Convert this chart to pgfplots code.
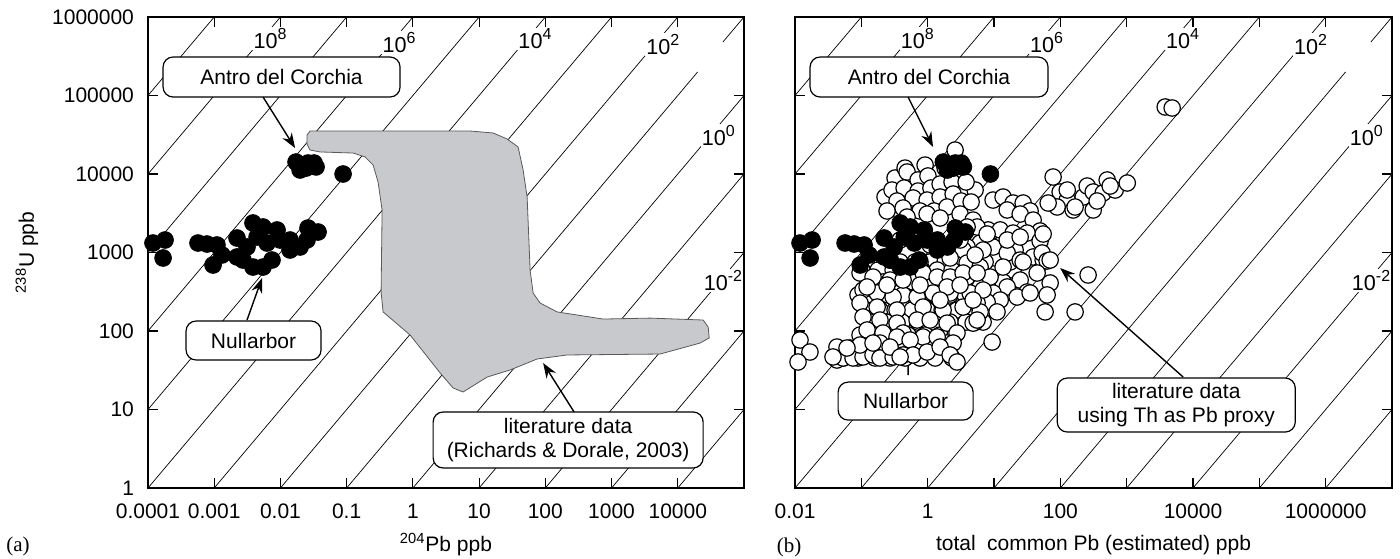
\documentclass[border=0pt]{standalone}
\usepackage{fontspec}
\setmainfont{Liberation Sans}
\newfontfamily\seriffont{Liberation Serif}
\usepackage{pgfplots}
\pgfplotsset{compat=1.18}
\usetikzlibrary{arrows.meta}

\newcommand\fs{\fontsize{10.5}{12}\selectfont}
\newcommand\pw[1]{10\raisebox{0.8ex}{\fontsize{8}{9}\selectfont #1}}

\tikzset{
  lab/.style={anchor=south west, fill=white, inner sep=0.6pt, font=\fontsize{10.8}{12}\selectfont},
  callout/.style={draw, fill=white, rounded corners=5pt, line width=0.6pt, font=\fs, align=center, inner sep=0pt},
  arr/.style={-{Stealth[length=7.5pt,width=5.5pt]}, line width=0.7pt},
}

\begin{document}
\begin{tikzpicture}
\useasboundingbox (0,0) rectangle (700pt,279pt);

% ---------------- (a) ----------------
\begin{axis}[name=pa, at={(74pt,35pt)}, anchor=south west,
  scale only axis, width=298pt, height=235.5pt,
  xmode=log, ymode=log, ymin=1, ymax=1e6, xmin=1e-4, xmax=1e5,
  xminorticks=false, yminorticks=false,
  axis line style={line width=0.9pt},
  tick style={black, line width=0.6pt},
  major tick length=5pt, tick align=inside,
  tick label style={font=\fs},
  yticklabel style={xshift=-3.5pt},
  xticklabel style={yshift=-4.5pt},
  label style={font=\fs},
  xtick={1e-4,1e-3,1e-2,1e-1,1,10,100,1000,10000,100000},
  xticklabels={0.0001,0.001,0.01,0.1,1,10,100,1000,10000,},
  ytick={1,10,100,1000,10000,100000,1000000},
  yticklabels={1,10,100,1000,10000,100000,1000000},
  xlabel={\textsuperscript{204}Pb ppb},
  ylabel={\textsuperscript{238}U ppb},
  xlabel style={at={(axis description cs:0.5,-0.121)}, anchor=center},
  ylabel style={at={(axis description cs:-0.203,0.5)}, anchor=center},
]
\addplot[black, line width=0.35pt, unbounded coords=jump, forget plot] table[row sep=\\] {
x y\\
1e-4 1e5\\ 1e-3 1e6\\ nan nan\\
1e-4 1e4\\ 1e-2 1e6\\ nan nan\\
1e-4 1e3\\ 0.1 1e6\\ nan nan\\
1e-4 100\\ 1 1e6\\ nan nan\\
1e-4 10\\ 10 1e6\\ nan nan\\
1e-4 1\\ 100 1e6\\ nan nan\\
1e-3 1\\ 1000 1e6\\ nan nan\\
1e-2 1\\ 1e4 1e6\\ nan nan\\
0.1 1\\ 19950 199500\\ nan nan\\
47900 479000\\ 1e5 1e6\\ nan nan\\
1 1\\ 1e5 1e5\\ nan nan\\
10 1\\ 1e5 1e4\\ nan nan\\
100 1\\ 1e5 1000\\ nan nan\\
1000 1\\ 1e5 100\\ nan nan\\
1e4 1\\ 1e5 10\\
};
% literature field (Richards & Dorale, 2003)
\addplot[fill={rgb,255:red,200;green,201;blue,204}, draw=black!65, line width=0.4pt] coordinates {
(0.0280,35300) (7.31,35300) (16.3,33300) (26.5,27900) (38.8,22100) (46.2,11250)
(53.1,5090) (58.9,598) (65.4,305) (83.4,227) (151,175) (747,142) (3830,146)
(24200,138) (28800,112) (29800,81.5) (21800,70.3) (5420,50.9) (213,49.5)
(75.2,44.0) (29.4,31.9) (13.2,25.9) (5.73,16.7) (4.05,18.8) (2.58,29.2)
(0.908,88.9) (0.355,175) (0.331,314) (0.343,3480) (0.298,7910) (0.251,13000)
(0.190,16500) (0.125,18500) (0.0396,19100) (0.0280,20200) (0.0252,24100)
(0.0252,31400)} -- cycle;
% Antro del Corchia and Nullarbor
\addplot[only marks, mark=*, mark size=4.2pt, mark options={fill=black, draw=black}] coordinates {
(0.0172,14200) (0.0212,12650) (0.0261,13800) (0.0322,13800) (0.0345,12300)
(0.0198,11250) (0.0244,11900) (0.0300,12650) (0.0883,10000)
(0.000119,1321) (0.000181,1443) (0.000169,851) (0.000569,1321) (0.000778,1283)
(0.00110,1246) (0.00131,930) (0.00096,693) (0.00221,1530) (0.00221,877)
(0.00313,1175) (0.00385,2376) (0.00546,2113) (0.00385,653) (0.00546,653)
(0.00746,802) (0.00628,1321) (0.00889,1936) (0.00986,1443) (0.01396,1443)
(0.01396,1076) (0.0198,1175) (0.0261,2051) (0.0370,1824) (0.0252,1443)
(0.00444,1575) (0.00272,802)};

\node[lab] at (axis cs:0.00372,371500) {\pw{8}};
\node[lab] at (axis cs:0.331,331000) {\pw{6}};
\node[lab] at (axis cs:37.2,371500) {\pw{4}};
\node[lab] at (axis cs:3160,316000) {\pw{2}};
\node[lab] at (axis cs:21900,21900) {\pw{0}};
\node[lab] at (axis cs:23400,314) {\pw{-2}};

\node[callout, minimum width=118.5pt, minimum height=20pt] at (axis cs:0.0104,172000) {Antro del Corchia};
\draw[arr] (axis cs:0.00546,95700) -- (axis cs:0.01664,21400);
\node[callout, minimum width=67.5pt, minimum height=19.5pt] at (axis cs:0.00393,75.7) {Nullarbor};
\draw[arr] (axis cs:0.00313,138) -- (axis cs:0.00527,473);
\node[callout, minimum width=135pt, minimum height=28pt] at (axis cs:221,4.09) {literature data\\(Richards \& Dorale, 2003)};
\draw[arr] (axis cs:272,9.29) -- (axis cs:92.7,39.1);
\end{axis}

% ---------------- (b) ----------------
\begin{axis}[name=pb, at={(397.5pt,35pt)}, anchor=south west,
  scale only axis, width=298.5pt, height=235.5pt,
  xmode=log, ymode=log, ymin=1, ymax=1e6, xmin=1e-2, xmax=1e7,
  xminorticks=false, yminorticks=false,
  axis line style={line width=0.9pt},
  tick style={black, line width=0.6pt},
  major tick length=5pt, tick align=inside,
  tick label style={font=\fs},
  xticklabel style={yshift=-4.5pt},
  label style={font=\fs},
  xtick={1e-2,1e-1,1,10,100,1000,1e4,1e5,1e6,1e7},
  xticklabels={0.01,,1,,100,,10000,,1000000,},
  ytick={1,10,100,1000,10000,100000,1000000},
  yticklabels={,,,,,,},
  xlabel={total\hspace{0.55em}common Pb (estimated) ppb},
  xlabel style={at={(axis description cs:0.5,-0.121)}, anchor=center},
]
\addplot[black, line width=0.35pt, unbounded coords=jump, forget plot] table[row sep=\\] {
x y\\
0.01 1e5\\ 0.1 1e6\\ nan nan\\
0.01 1e4\\ 1 1e6\\ nan nan\\
0.01 1000\\ 10 1e6\\ nan nan\\
0.01 100\\ 100 1e6\\ nan nan\\
0.01 10\\ 1000 1e6\\ nan nan\\
0.01 1\\ 1e4 1e6\\ nan nan\\
0.1 1\\ 1e5 1e6\\ nan nan\\
1 1\\ 1e6 1e6\\ nan nan\\
10 1\\ 1995000 199500\\ nan nan\\
4790000 479000\\ 1e7 1e6\\ nan nan\\
100 1\\ 1e7 1e5\\ nan nan\\
1000 1\\ 1e7 1e4\\ nan nan\\
1e4 1\\ 1e7 1000\\ nan nan\\
1e5 1\\ 1e7 100\\ nan nan\\
1e6 1\\ 1e7 10\\
};
% literature data using Th as Pb proxy
\addplot[only marks, mark=*, mark size=4.1pt, mark options={fill=white, draw=black, line width=0.6pt}] coordinates {
(0.1352,757) (0.2275,757) (0.384,757) (0.6457,757) (1.09,757) (1.829,757) (3.08,757) (5.19,757) (8.73,757) (14.7,757)
(0.1026,598) (0.1786,598) (0.301,598) (0.5058,598) (0.8241,598) (1.39,598) (2.33,598) (4.064,598) (6.85,598) (11.5,598) (19.4,598)
(0.1262,421) (0.2124,421) (0.3581,421) (0.603,421) (1.01,421) (1.71,421) (2.876,421) (4.84,421) (8.15,421) (13.7,421)
(0.0891,288) (0.1449,288) (0.2529,288) (0.426,288) (0.716,288) (1.294,288) (2.18,288) (3.664,288) (6.622,288) (11.1,288)
(0.1138,185) (0.1914,185) (0.3221,185) (0.5821,185) (0.98,185) (1.648,185) (2.77,185) (4.677,185) (7.87,185)
(0.1352,130) (0.2360,130) (0.4111,130) (0.716,130) (1.25,130) (2.18,130) (3.79,130) (6.85,130)
(0.0955,88.9) (0.1667,88.9) (0.290,88.9) (0.5058,88.9) (0.9141,88.9) (1.54,88.9) (2.59,88.9)
(0.0676,60.7) (0.1178,60.7) (0.2051,60.7) (0.3581,60.7) (0.6457,60.7) (1.164,60.7) (2.030,60.7)
(0.0530,45.3) (0.0891,45.3) (0.1611,45.3) (0.271,45.3) (0.4560,45.3) (0.767,45.3) (1.294,45.3) (2.33,45.3)
(0.2275,5090) (0.3221,8890) (0.9141,13000) (1.829,11900) (3.08,11250) (5.19,6250) (0.4560,11900)
(10.4,851) (17.5,757) (7.345,757) (12.4,1246) (20.8,1076)
(2.59,20200) (0.489,10600) (0.716,8390) (1.01,9440) (0.290,6250) (0.441,6630)
(0.716,6070) (1.12,6630) (1.54,7460) (2.33,7910) (3.79,7910) (0.603,4950)
(0.98,4660) (1.54,5090) (2.42,5560) (0.345,4530) (0.244,3380) (0.426,3690)
(0.767,3380) (1.25,3380) (1.96,3800) (3.19,4530) (4.52,4400) (0.489,2830)
(0.98,3090) (1.54,2750) (3.08,3090)
(9.68,4660) (13.7,5090) (19.4,4270) (27.5,4270) (35.0,3380) (15.8,3480)
(24.8,3090) (38.9,2590) (49.5,1880) (77.8,9160) (99.3,5900) (127,4660)
(89.5,3800) (65.5,4270) (156,3480) (221,5090) (254,7030) (313,5900)
(313,3480) (442,5730) (508,8390) (671,6250) (1020,7680) (564,7030)
(359,4530) (127,6250) (167,3800) (8.15,1940) (12.4,1940) (19.4,1770)
(31.6,1770) (49.5,1400) (4.84,2590) (6.17,1320) (9.68,1175) (15.8,986)
(24.8,802) (38.9,877) (55.1,802) (5.56,2113) (7.87,1720) (3.93,2113)
(15.8,1443) (24.8,1575) (55.1,1720) (3.93,1175) (13.7,653) (27.5,757)
(53.1,986) (63.2,780) (3.42,1076) (6.85,1076)
(3810,71400) (4850,69300)
(44.7,548) (24.8,446) (15.8,364) (9.68,305) (6.17,364) (3.93,487) (3.93,735)
(6.17,653) (8.73,487) (70.2,409) (63.2,288) (31.6,314) (22.3,271) (12.4,248)
(7.87,234) (5.56,227) (6.17,175) (11.1,175) (59.0,175) (5.19,130) (9.36,72.4)
(167,175) (262,517) (35.0,305) (4.84,126) (70.2,802)
(0.384,1443) (1.09,1246) (3.08,1443) (0.271,802) (0.767,757) (2.18,851) (5.19,930)
(0.0955,548) (0.150,487) (0.271,446) (0.426,446) (0.853,548) (1.39,487)
(2.18,487) (3.42,548) (5.56,548) (0.106,333) (0.173,305) (0.301,271)
(0.692,271) (1.21,305) (2.18,305) (4.36,305) (6.85,333) (0.0955,227)
(0.173,202) (0.345,185) (0.853,202) (1.71,185) (3.42,202) (5.56,138)
(0.106,151) (0.191,138) (0.345,126) (0.692,138) (1.09,138) (1.96,126)
(2.77,94.3) (0.122,103) (0.212,94.3) (0.426,94.3) (0.853,83.9) (1.96,70.3)
(0.191,70.3) (0.345,83.9) (0.543,76.8) (1.39,83.9) (2.42,70.3) (0.122,364)
(0.244,385) (0.767,385) (1.96,364) (3.08,385) (1.54,248) (4.84,248)
(0.0119,76.8) (0.0168,54.0) (0.0111,40.3) (0.0429,42.7) (0.0530,45.3)
(0.0750,45.3) (0.106,46.7) (0.150,49.5) (0.191,45.3) (0.301,46.7) (0.426,49.5)
(0.603,49.5) (0.98,54.0) (1.54,62.5) (2.18,49.5) (2.77,40.3) (0.0955,66.3)
(0.150,70.3) (0.271,62.5) (0.0429,62.5) (0.0608,60.7) (0.0374,46.7) (0.384,46.7)};
% Antro del Corchia and Nullarbor
\addplot[only marks, mark=*, mark size=4.2pt, mark options={fill=black, draw=black}] coordinates {
(1.72,14200) (2.12,12650) (2.61,13800) (3.22,13800) (3.45,12300)
(1.98,11250) (2.44,11900) (3.00,12650) (8.83,10000)
(0.0119,1321) (0.0181,1443) (0.0169,851) (0.0569,1321) (0.0778,1283)
(0.110,1246) (0.131,930) (0.096,693) (0.221,1530) (0.221,877)
(0.313,1175) (0.385,2376) (0.546,2113) (0.385,653) (0.546,653)
(0.746,802) (0.628,1321) (0.889,1936) (0.986,1443) (1.396,1443)
(1.396,1076) (1.98,1175) (2.61,2051) (3.70,1824) (2.52,1443)
(0.444,1575) (0.272,802)};

\node[lab] at (axis cs:0.372,371500) {\pw{8}};
\node[lab] at (axis cs:33.1,331000) {\pw{6}};
\node[lab] at (axis cs:3720,371500) {\pw{4}};
\node[lab] at (axis cs:316000,316000) {\pw{2}};
\node[lab] at (axis cs:2190000,21900) {\pw{0}};
\node[lab] at (axis cs:2350000,314) {\pw{-2}};

\node[callout, minimum width=119pt, minimum height=20pt] at (axis cs:1.05,172000) {Antro del Corchia};
\draw[arr] (axis cs:0.506,95700) -- (axis cs:1.205,22100);
\draw[arr] (axis cs:0.506,27.5) -- (axis cs:0.520,370);
\node[callout, minimum width=67.5pt, minimum height=19pt] at (axis cs:0.465,12.8) {Nullarbor};
\node[callout, minimum width=119pt, minimum height=27pt] at (axis cs:5590,11.4) {literature data\\using Th as Pb proxy};
\draw[arr] (axis cs:7110,25.9) -- (axis cs:99.3,635);
\end{axis}

\node[font=\seriffont\fontsize{10.5}{12}\selectfont] at (9pt,6pt) {(a)};
\node[font=\seriffont\fontsize{10.5}{12}\selectfont] at (394.5pt,5.5pt) {(b)};
\end{tikzpicture}
\end{document}
